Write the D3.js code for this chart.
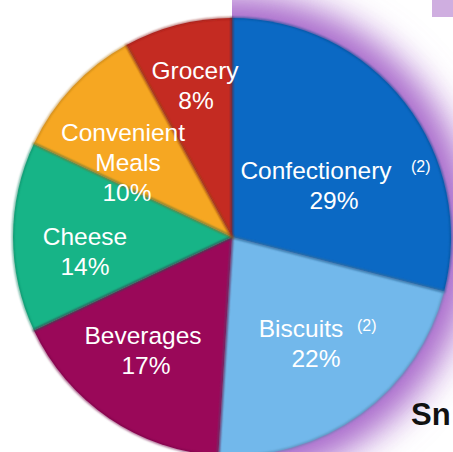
<!DOCTYPE html>
<html>
<head>
<meta charset="utf-8">
<script src="https://cdn.jsdelivr.net/npm/d3@7"></script>
<style>
  html, body { margin: 0; padding: 0; background: #ffffff; }
  svg { display: block; }
</style>
</head>
<body>
<svg id="chart" width="453" height="452"></svg>
<script>
// Sales share by category, clockwise from 12 o'clock
const categories = ["Confectionery", "Biscuits", "Beverages", "Cheese", "Convenient Meals", "Grocery"];
const shares = [29, 22, 17, 14, 10, 8];
const notes = ["(2)", "(2)", "", "", "", ""];
const sliceColors = ["#0b69c4", "#72b8eb", "#9a0859", "#17b487", "#f6a722", "#c42b22"];
// Label lines per slice (text rows inside each wedge)
const labelLines = [
  ["Confectionery", "29%"],
  ["Biscuits", "22%"],
  ["Beverages", "17%"],
  ["Cheese", "14%"],
  ["Convenient", "Meals", "10%"],
  ["Grocery", "8%"]
];

const width = 453, height = 452;
const cx = 232, cy = 237, radius = 219;

const svg = d3.select("#chart");
const defs = svg.append("defs");

// Soft purple halo behind the right half of the pie
const glow = defs.append("filter").attr("id", "halo")
  .attr("x", "-30%").attr("y", "-30%").attr("width", "160%").attr("height", "160%");
glow.append("feGaussianBlur").attr("stdDeviation", 18);

defs.append("clipPath").attr("id", "rightHalf")
  .append("rect").attr("x", cx).attr("y", 0).attr("width", width - cx).attr("height", height);

const haloGroup = svg.append("g").attr("clip-path", "url(#rightHalf)");
haloGroup.append("circle")
  .attr("cx", cx).attr("cy", cy).attr("r", radius + 22)
  .attr("fill", "#b27ad2")
  .attr("filter", "url(#halo)");
haloGroup.append("circle")
  .attr("cx", cx).attr("cy", cy).attr("r", radius + 6)
  .attr("fill", "#9a4fc0")
  .attr("opacity", 0.55)
  .attr("filter", "url(#halo)");

// Small purple block in the upper right corner
svg.append("rect")
  .attr("x", 432).attr("y", 0).attr("width", 21).attr("height", 17)
  .attr("fill", "#cfaee0");

// Pie
const pie = d3.pie().sort(null).value(d => d.value).startAngle(0).endAngle(2 * Math.PI);
const data = categories.map((c, i) => ({ name: c, value: shares[i], color: sliceColors[i], lines: labelLines[i], note: notes[i] }));
const arcs = pie(data);
const arc = d3.arc().innerRadius(0).outerRadius(radius);

const g = svg.append("g").attr("transform", `translate(${cx},${cy})`);

const edgeBlur = defs.append("filter").attr("id", "edgeSoft");
edgeBlur.append("feGaussianBlur").attr("stdDeviation", 1.2);

g.selectAll("path.slice")
  .data(arcs)
  .join("path")
  .attr("class", "slice")
  .attr("d", arc)
  .attr("fill", d => d.data.color);

// Darker rim along each wedge for a slight bevelled look
g.selectAll("path.rim")
  .data(arcs)
  .join("path")
  .attr("class", "rim")
  .attr("d", arc)
  .attr("fill", "none")
  .attr("stroke", d => d3.color(d.data.color).darker(0.9))
  .attr("stroke-width", 2)
  .attr("stroke-opacity", 0.7)
  .attr("filter", "url(#edgeSoft)");

// Label placement: centre x of each row and first baseline per slice
const labelX = [[316, 334], [301, 316], [143, 146], [85, 85], [123, 128, 127], [195, 196]];
const labelY = [179, 337, 344, 245, 141, 79];
const noteX = [411, 357];
const noteY = [172, 331];
const lineGap = 30;

const labels = svg.append("g")
  .attr("font-family", "'Liberation Sans', Arial, sans-serif")
  .attr("fill", "#ffffff");

arcs.forEach((d, i) => {
  const t = labels.append("text")
    .attr("text-anchor", "middle")
    .attr("font-size", 24.5);
  d.data.lines.forEach((line, k) => {
    t.append("tspan")
      .attr("x", labelX[i][k])
      .attr("y", labelY[i] + k * lineGap)
      .text(line);
  });
  if (d.data.note) {
    // footnote marker after the category name
    labels.append("text")
      .attr("x", noteX[i])
      .attr("y", noteY[i])
      .attr("font-size", 16)
      .attr("text-anchor", "start")
      .text(d.data.note);
  }
});

// Heading fragment at lower right
svg.append("text")
  .attr("x", 411).attr("y", 425)
  .attr("font-family", "'Liberation Sans', Arial, sans-serif")
  .attr("font-weight", "bold")
  .attr("font-size", 31)
  .attr("fill", "#111111")
  .text("Sn");
</script>
</body>
</html>
